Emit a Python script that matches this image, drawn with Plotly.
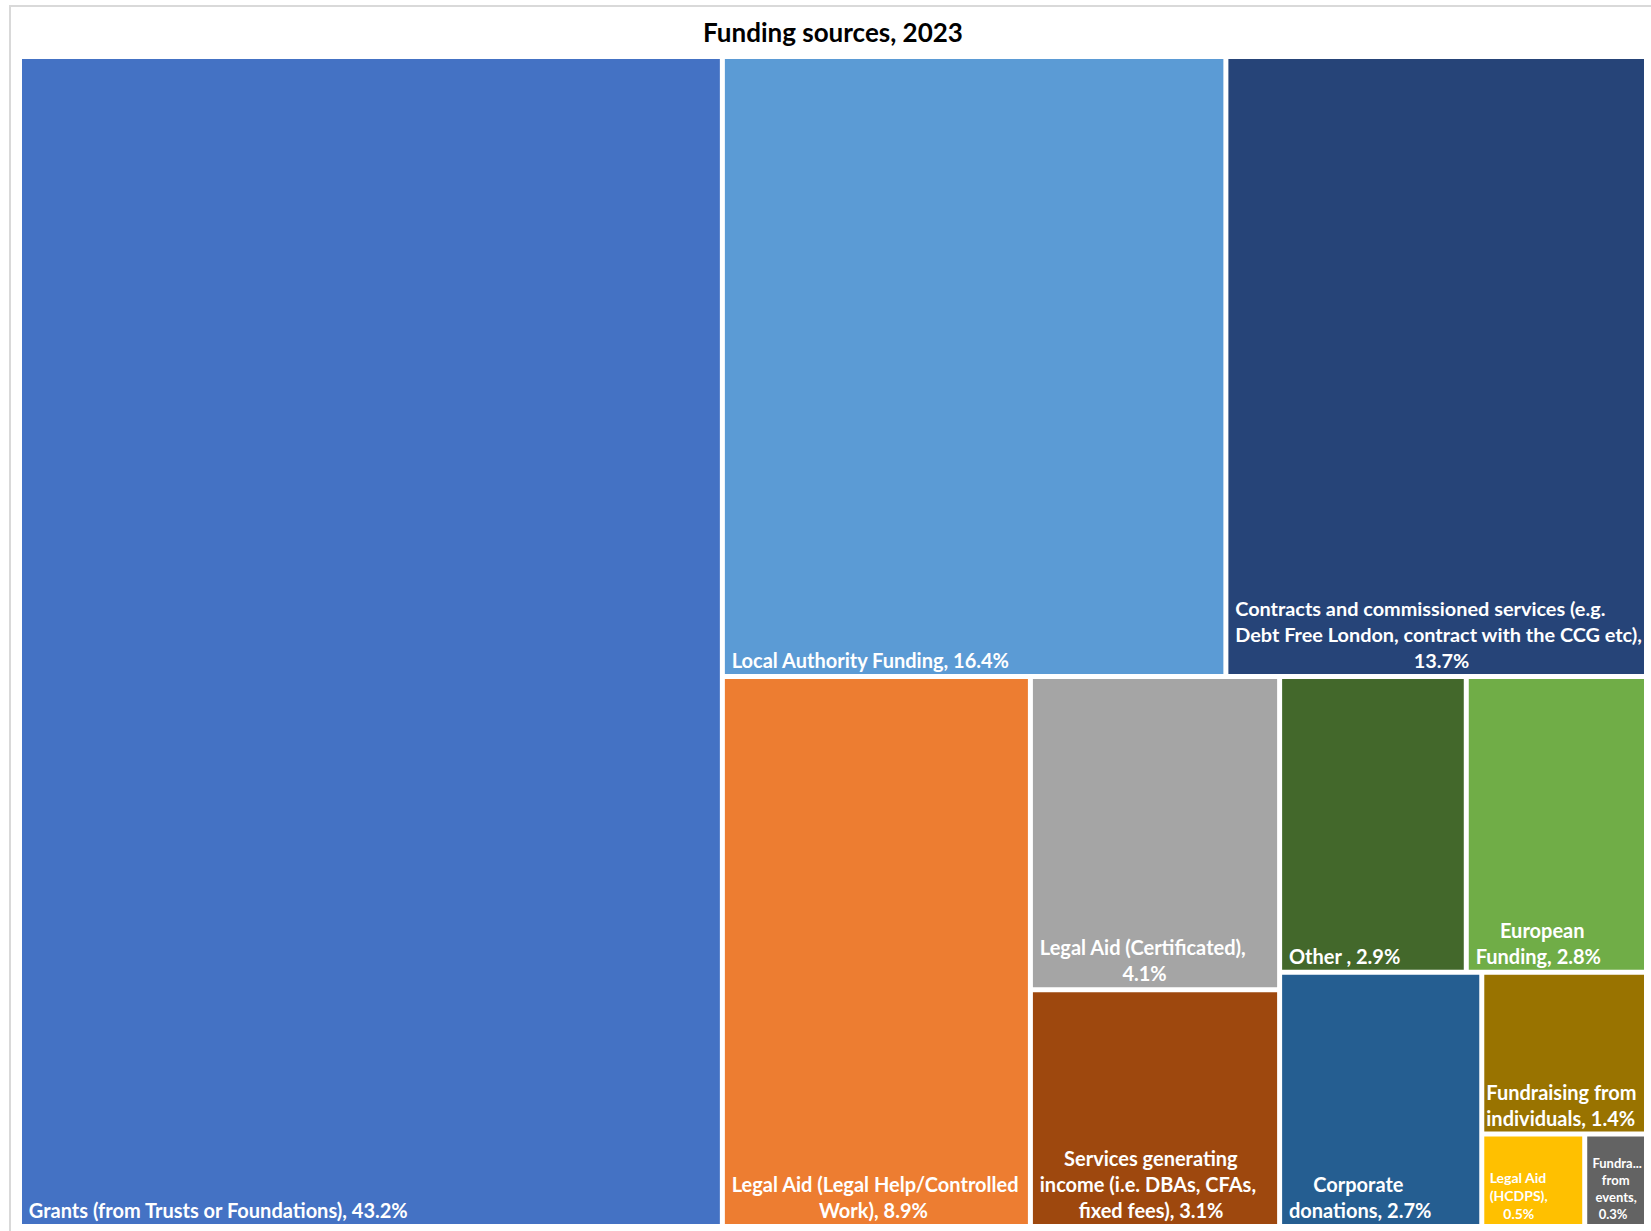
import plotly.graph_objects as go

# Funding sources, share of total income (%)
sources = [
    "Grants (from Trusts or Foundations)",
    "Local Authority Funding",
    "Contracts and commissioned services (e.g. Debt Free London, contract with the CCG etc)",
    "Legal Aid (Legal Help/Controlled Work)",
    "Legal Aid (Certificated)",
    "Services generating income (i.e. DBAs, CFAs, fixed fees)",
    "Other",
    "European Funding",
    "Corporate donations",
    "Fundraising from individuals",
    "Legal Aid (HCDPS)",
    "Fundraising from events",
]
shares = [43.2, 16.4, 13.7, 8.9, 4.1, 3.1, 2.9, 2.8, 2.7, 1.4, 0.5, 0.3]

# Wrapped label text shown inside each tile (value appended by the template);
# leading non-breaking spaces roughly centre the shorter lines
NB = "\u00a0"
tile_text = [
    NB + "Grants (from Trusts or Foundations), ",
    NB + "Local Authority Funding, ",
    NB + "Contracts and commissioned services (e.g.<br>" + NB
    + "Debt Free London, contract with the CCG etc),<br>" + NB * 38,
    NB + "Legal Aid (Legal Help/Controlled<br>" + NB * 19 + "Work), ",
    NB + "Legal Aid (Certificated),<br>" + NB * 18,
    NB * 6 + "Services generating<br>" + NB + "income (i.e. DBAs, CFAs,<br>" + NB * 9 + "fixed fees), ",
    NB + "Other , ",
    NB * 6 + "European<br>" + NB + "Funding, ",
    NB * 6 + "Corporate<br>" + NB + "donations, ",
    "Fundraising from<br>individuals, ",
    NB + "Legal Aid<br>" + NB + "(HCDPS),<br>" + NB * 5,
    NB + "Fundra...<br>" + NB * 4 + "from<br>" + NB * 2 + "events,<br>" + NB * 3,
]
text_sizes = [20, 20, 20, 20, 20, 20, 20, 20, 20, 20, 14, 13]

colors = [
    "#4472C4", "#5B9BD5", "#264478", "#ED7D31", "#A5A5A5", "#9E480E",
    "#43682B", "#70AD47", "#255E91", "#997300", "#FFC000", "#636363",
]

W, H = 1651, 1231

fig = go.Figure(
    go.Treemap(
        labels=sources,
        parents=[""] * len(sources),
        values=shares,
        text=tile_text,
        texttemplate="<b>%{text}%{value:.1f}%</b>",
        textposition="bottom left",
        textfont=dict(family="Lato", size=text_sizes, color="white"),
        marker=dict(
            colors=colors,
            line=dict(color="white", width=2),
            pad=dict(t=0, l=0, r=0, b=0),
        ),
        tiling=dict(packing="squarify", squarifyratio=1),
        sort=True,
        pathbar=dict(visible=False),
        hoverinfo="label+value",
        domain=dict(x=[21 / W, 1645 / W], y=[1 - 1225 / H, 1 - 58 / H]),
    )
)

fig.update_layout(
    width=W,
    height=H,
    margin=dict(l=0, r=0, t=0, b=0),
    paper_bgcolor="white",
    font=dict(family="Lato"),
    title=dict(
        text="<b>Funding sources, 2023</b>",
        font=dict(family="Lato", size=26, color="black"),
        x=833 / W,
        xanchor="center",
        y=1 - 33 / H,
        yanchor="middle",
    ),
    shapes=[
        dict(
            type="rect", xref="paper", yref="paper",
            x0=10 / W, x1=1.02, y0=-0.02, y1=1 - 6 / H,
            line=dict(color="#D9D9D9", width=2),
            layer="below",
        )
    ],
)

fig.write_html("out.html")
